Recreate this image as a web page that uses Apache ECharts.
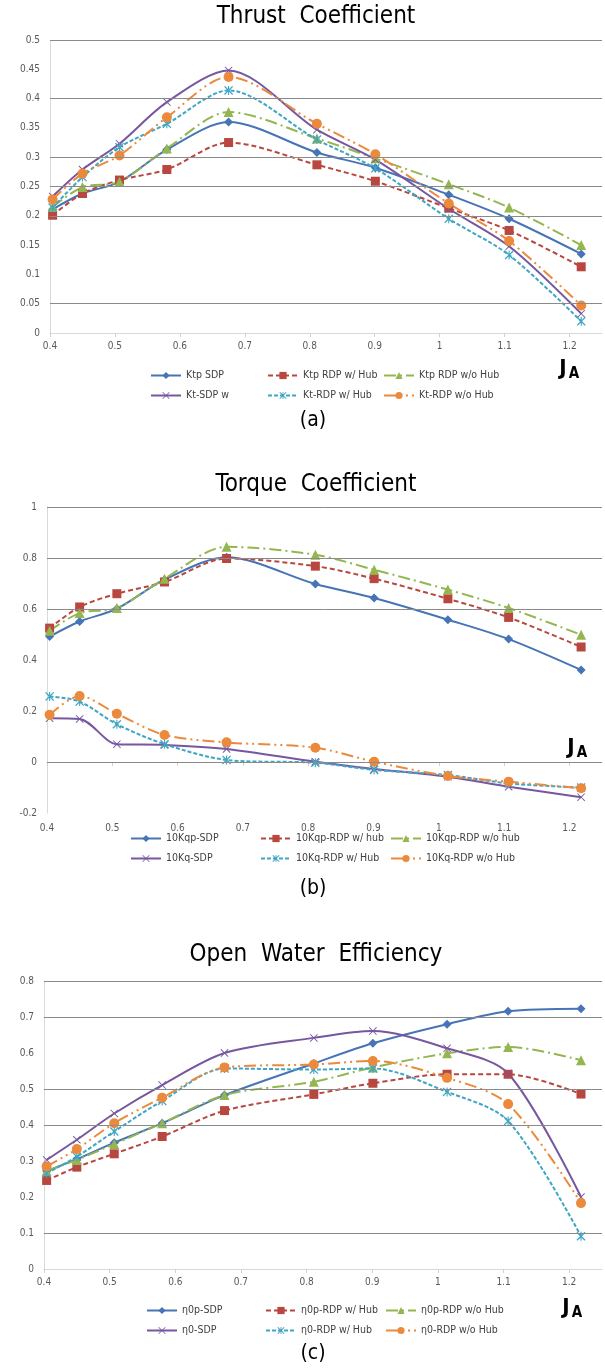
<!DOCTYPE html>
<html>
<head>
<meta charset="utf-8">
<script src="https://cdn.jsdelivr.net/npm/echarts@6/dist/echarts.min.js"></script>
<style>
  html, body { margin: 0; padding: 0; background: #ffffff; }
  #chart { width: 605px; height: 1368px; }
</style>
</head>
<body>
<div id="chart"></div>
<script>
// Advance ratio J_A at which each propeller configuration was evaluated
const jA = [0.404, 0.45, 0.507, 0.58, 0.675, 0.811, 0.901, 1.014, 1.107, 1.218];
const xTicks = [0.4, 0.5, 0.6, 0.7, 0.8, 0.9, 1, 1.1, 1.2];

// (a) Thrust coefficient
const thrustNames = ['Ktp SDP', 'Ktp RDP w/ Hub', 'Ktp RDP w/o Hub', 'Kt-SDP w', 'Kt-RDP w/ Hub', 'Kt-RDP w/o Hub'];
const ktpSDP      = [0.211, 0.238, 0.258, 0.313, 0.360, 0.308, 0.282, 0.236, 0.195, 0.135];
const ktpRDPHub   = [0.201, 0.238, 0.261, 0.279, 0.325, 0.287, 0.259, 0.213, 0.175, 0.113];
const ktpRDPNoHub = [0.215, 0.249, 0.258, 0.315, 0.377, 0.332, 0.298, 0.254, 0.214, 0.150];
const ktSDP       = [0.233, 0.279, 0.323, 0.394, 0.448, 0.347, 0.296, 0.212, 0.148, 0.033];
const ktRDPHub    = [0.214, 0.266, 0.317, 0.357, 0.414, 0.330, 0.281, 0.195, 0.133, 0.020];
const ktRDPNoHub  = [0.228, 0.272, 0.303, 0.368, 0.437, 0.357, 0.305, 0.221, 0.157, 0.047];
const thrustGrid  = [0.5, 0.4, 0.3, 0.25, 0.2, 0.05];

// (b) Torque coefficient
const torqueNames = ['10Kqp-SDP', '10Kqp-RDP w/ hub', '10Kqp-RDP w/o hub', '10Kq-SDP', '10Kq-RDP w/ Hub', '10Kq-RDP w/o Hub'];
const kqpSDP      = [0.492, 0.551, 0.601, 0.715, 0.803, 0.698, 0.643, 0.558, 0.482, 0.361];
const kqpRDPHub   = [0.525, 0.608, 0.660, 0.706, 0.798, 0.768, 0.719, 0.640, 0.567, 0.451];
const kqpRDPNoHub = [0.515, 0.584, 0.604, 0.719, 0.844, 0.813, 0.754, 0.676, 0.604, 0.499];
const kqSDP       = [0.172, 0.169, 0.070, 0.067, 0.051, 0.001, -0.027, -0.058, -0.097, -0.138];
const kqRDPHub    = [0.257, 0.237, 0.148, 0.070, 0.008, -0.003, -0.031, -0.051, -0.084, -0.100];
const kqRDPNoHub  = [0.185, 0.259, 0.189, 0.106, 0.077, 0.056, 0.001, -0.055, -0.077, -0.103];
const torqueGrid  = [1, 0.8, 0.6, 0];

// (c) Open water efficiency
const effNames = ['η0p-SDP', 'η0p-RDP w/ Hub', 'η0p-RDP w/o Hub', 'η0-SDP', 'η0-RDP w/ Hub', 'η0-RDP w/o Hub'];
const etapSDP      = [0.272, 0.305, 0.351, 0.405, 0.483, 0.571, 0.627, 0.680, 0.716, 0.723];
const etapRDPHub   = [0.246, 0.283, 0.320, 0.368, 0.440, 0.485, 0.516, 0.541, 0.541, 0.486];
const etapRDPNoHub = [0.272, 0.303, 0.347, 0.405, 0.483, 0.520, 0.560, 0.599, 0.617, 0.580];
const etaSDP       = [0.303, 0.359, 0.432, 0.511, 0.600, 0.642, 0.661, 0.613, 0.543, 0.200];
const etaRDPHub    = [0.266, 0.312, 0.382, 0.467, 0.557, 0.554, 0.557, 0.492, 0.411, 0.091];
const etaRDPNoHub  = [0.285, 0.333, 0.405, 0.476, 0.560, 0.568, 0.578, 0.531, 0.458, 0.183];
const effGrid      = [0.8, 0.7, 0.5, 0.4, 0.1];

const FONT = "'Liberation Sans Narrow', 'DejaVu Sans Condensed', 'Liberation Sans', sans-serif";

// marker glyphs: thin cross and asterisk
const crossPath = 'path://M0,0.08 L0.08,0 L0.5,0.42 L0.92,0 L1,0.08 L0.58,0.5 L1,0.92 L0.92,1 L0.5,0.58 L0.08,1 L0,0.92 L0.42,0.5 Z';
const starPath = 'path://M0,0.1 L0.1,0 L0.5,0.4 L0.9,0 L1,0.1 L0.6,0.5 L1,0.9 L0.9,1 L0.5,0.6 L0.1,1 L0,0.9 L0.4,0.5 Z M0.44,0 L0.56,0 L0.56,1 L0.44,1 Z';

const looks = [
  { color: '#4674B6', symbol: 'diamond',  size: 9,  dash: 'solid' },
  { color: '#B8473F', symbol: 'rect',     size: 9,  dash: [5, 3] },
  { color: '#93B650', symbol: 'triangle', size: 10, dash: [12, 4, 2, 4] },
  { color: '#7657A0', symbol: crossPath,  size: 8,  dash: 'solid' },
  { color: '#3FA6C3', symbol: starPath,   size: 9,  dash: [4, 2] },
  { color: '#EB8A3C', symbol: 'circle',   size: 10, dash: [12, 4, 2, 4, 2, 4] }
];

const panels = [
  { names: thrustNames, values: [ktpSDP, ktpRDPHub, ktpRDPNoHub, ktSDP, ktRDPHub, ktRDPNoHub],
    grid: { left: 50, top: 40, width: 552, height: 293 },
    y: { min: 0, max: 0.5, interval: 0.05 }, lines: thrustGrid,
    legendTop: 365, legendLeft: [145, 262, 378], labelMargin: 8 },
  { names: torqueNames, values: [kqpSDP, kqpRDPHub, kqpRDPNoHub, kqSDP, kqRDPHub, kqRDPNoHub],
    grid: { left: 47, top: 507, width: 555, height: 306 },
    y: { min: -0.2, max: 1, interval: 0.2 }, lines: torqueGrid,
    legendTop: 828, legendLeft: [125, 255, 385], labelMargin: 10 },
  { names: effNames, values: [etapSDP, etapRDPHub, etapRDPNoHub, etaSDP, etaRDPHub, etaRDPNoHub],
    grid: { left: 44, top: 981, width: 558, height: 288 },
    y: { min: 0, max: 0.8, interval: 0.1 }, lines: effGrid,
    legendTop: 1300, legendLeft: [141, 260, 380], labelMargin: 8 }
];

const grids = [], xAxes = [], yAxes = [], series = [], legends = [];

panels.forEach((p, gi) => {
  grids.push(Object.assign({ containLabel: false }, p.grid));
  xAxes.push({
    type: 'value', gridIndex: gi, min: 0.4, max: 1.25, interval: 0.1,
    axisLine: { show: true, onZero: true, lineStyle: { color: '#d9d9d9', width: 1 } },
    axisTick: { show: true, customValues: xTicks, length: 4, lineStyle: { color: '#d0d0d0' } },
    axisLabel: { customValues: xTicks, color: '#595959', fontSize: 10, fontFamily: FONT, margin: p.labelMargin },
    splitLine: { show: false }
  });
  yAxes.push({
    type: 'value', gridIndex: gi, min: p.y.min, max: p.y.max, interval: p.y.interval,
    axisLine: { show: true, onZero: false, lineStyle: { color: '#d9d9d9', width: 1 } },
    axisTick: { show: false },
    axisLabel: { color: '#595959', fontSize: 10, fontFamily: FONT, margin: 10 },
    splitLine: { show: false }
  });

  p.names.forEach((name, si) => {
    const lk = looks[si];
    const s = {
      name: name, type: 'line', xAxisIndex: gi, yAxisIndex: gi,
      data: jA.map((x, k) => [x, p.values[si][k]]),
      smooth: 0.3,
      symbol: lk.symbol, symbolSize: lk.size, showSymbol: true,
      color: lk.color,
      itemStyle: { color: lk.color },
      lineStyle: { color: lk.color, width: 2, type: lk.dash },
      emphasis: { disabled: true },
      z: 3
    };
    if (si === 0) {
      s.markLine = {
        silent: true, symbol: ['none', 'none'], animation: false,
        label: { show: false },
        lineStyle: { color: '#8a8a8a', width: 1, type: 'solid' },
        emphasis: { disabled: true },
        data: p.lines.map(v => ({ yAxis: v }))
      };
    }
    series.push(s);
  });

  // three legend columns, two rows each
  [0, 1, 2].forEach(c => {
    legends.push({
      orient: 'vertical', left: p.legendLeft[c], top: p.legendTop,
      itemWidth: 30, itemHeight: 9, itemGap: 9,
      selectedMode: false,
      textStyle: { color: '#404040', fontSize: 10.5, fontFamily: FONT },
      data: [p.names[c], p.names[c + 3]]
    });
  });
});

// titles, panel captions and axis symbol J_A
const textItems = [];
const addText = (str, x, y, size, weight) => textItems.push({
  type: 'text', x: x, y: y, silent: true,
  style: { text: str, align: 'center', verticalAlign: 'middle', fill: '#000', font: weight + ' ' + size + 'px ' + FONT }
});
addText('Thrust  Coefficient', 316, 17, 24, 'normal');
addText('(a)', 313, 421, 21, 'normal');
addText('Torque  Coefficient', 316, 485, 24, 'normal');
addText('(b)', 313, 889, 21, 'normal');
addText('Open  Water  Efficiency', 316, 955, 24, 'normal');
addText('(c)', 313, 1354, 21, 'normal');
[[563, 369], [571, 748], [566, 1308]].forEach(([x, y]) => {
  addText('J', x, y, 22, 'bold');
  addText('A', x + 11, y + 5, 15, 'bold');
});

const chart = echarts.init(document.getElementById('chart'), null, { renderer: 'canvas' });
chart.setOption({
  animation: false,
  backgroundColor: '#ffffff',
  textStyle: { fontFamily: FONT },
  grid: grids,
  xAxis: xAxes,
  yAxis: yAxes,
  legend: legends,
  series: series,
  graphic: textItems
});
</script>
</body>
</html>
